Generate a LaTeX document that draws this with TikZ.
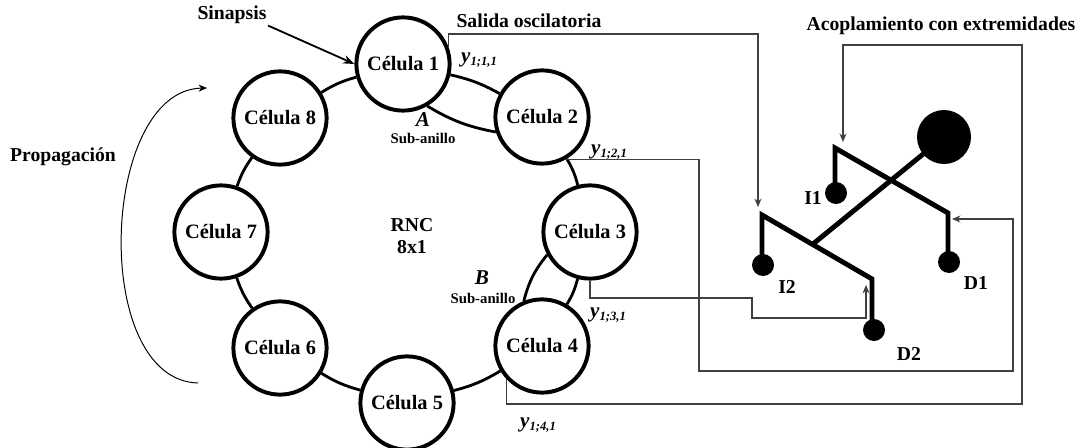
\documentclass[tikz,border=0pt]{standalone}
\usepackage{fontspec}
\setmainfont{Liberation Serif}
\usetikzlibrary{arrows.meta}

\newcommand{\ysal}[1]{{\fontsize{15}{16}\selectfont\bfseries\itshape y\raisebox{-0.35ex}{\fontsize{9}{10}\selectfont #1}}}

\begin{document}
\begin{tikzpicture}[x=0.025cm, y=-0.025cm,
celula/.style={circle, draw=black, line width=2.8pt, minimum size=2.33cm, inner sep=0pt, fill=white, font=\fontsize{14.5}{16}\selectfont\bfseries},
anillo/.style={line width=2pt},
senal/.style={draw=black!75, line width=0.8pt},
flecha/.style={-{Stealth[length=6pt,width=5pt]}},
etiqueta/.style={font=\fontsize{14}{16}\selectfont\bfseries, inner sep=1pt},
subanillo/.style={font=\fontsize{10.5}{12}\selectfont\bfseries, inner sep=1pt},
extremidad/.style={line width=3.5pt}
]
\useasboundingbox (0,0) rectangle (1083,447);
% Cells of the ring
\node[celula] (cel1) at (403,64) {Célula 1};
\node[celula] (cel2) at (542,117) {Célula 2};
\node[celula] (cel3) at (590,232) {Célula 3};
\node[celula] (cel4) at (542,346) {Célula 4};
\node[celula] (cel5) at (407,403) {Célula 5};
\node[celula] (cel6) at (280,348) {Célula 6};
\node[celula] (cel7) at (221,232) {Célula 7};
\node[celula] (cel8) at (280,118) {Célula 8};
% Ring links
\draw[anillo] (cel1) to[bend left=8] (cel2);
\draw[anillo] (cel2) to[bend left=8] (cel3);
\draw[anillo] (cel3) to[bend left=8] (cel4);
\draw[anillo] (cel4) to[bend left=8] (cel5);
\draw[anillo] (cel5) to[bend left=8] (cel6);
\draw[anillo] (cel6) to[bend left=8] (cel7);
\draw[anillo] (cel7) to[bend left=8] (cel8);
\draw[anillo] (cel8) to[bend left=8] (cel1);
% Sub-rings A and B
\draw[anillo] (cel1.-60) to[bend right=10] (cel2.-162);
\draw[anillo] (cel3.-152) to[bend right=12] (cel4.112);
\node[subanillo, font=\fontsize{15}{16}\selectfont\bfseries\itshape] (letA) at (423,120) {A};
\node[subanillo] (subA) at (423,138) {Sub-anillo};
\node[subanillo, font=\fontsize{15}{16}\selectfont\bfseries\itshape] (letB) at (482,278) {B};
\node[subanillo] (subB) at (483,298) {Sub-anillo};
\node[etiqueta, align=center] (rnc) at (412,236) {RNC\\8x1};
% Annotations
\node[etiqueta] (sinapsis) at (232,15) {Sinapsis};
\draw[line width=1.3pt, -{Stealth[length=8pt,width=6pt]}] (sinapsis.south east) -- (cel1.west);
\node[etiqueta] (salida) at (529,21) {Salida oscilatoria};
\node[etiqueta] (acopla) at (941,26) {Acoplamiento con extremidades};
\node[etiqueta] (propaga) at (63,157) {Propagación};
\coordinate (propIni) at (198,383);
\coordinate (propFin) at (207,88);
\draw[line width=0.7pt, flecha] (propIni) .. controls (90,380) and (100,90) .. (propFin);
% Output labels
\node (y11) at (479,60) {\ysal{1;1,1}};
\node (y21) at (609,152) {\ysal{1;2,1}};
\node (y31) at (608,315) {\ysal{1;3,1}};
\node (y41) at (538,425) {\ysal{1;4,1}};
% Limbs
\draw[extremidad] (835,193) -- (835,148) -- (948,213) -- (948,262);
\draw[extremidad] (762,265) -- (762,215) -- (872,279) -- (872,330);
\draw[extremidad] (944,137) -- (813,244);
\fill (944,137) circle[radius=27];
\fill (836,193) circle[radius=11];
\fill (949,262) circle[radius=11];
\fill (763,265) circle[radius=11];
\fill (874,330) circle[radius=11];
\node[etiqueta] (i1) at (813,198) {I1};
\node[etiqueta] (i2) at (787,287) {I2};
\node[etiqueta] (d1) at (976,283) {D1};
\node[etiqueta] (d2) at (909,354) {D2};
\coordinate (i1in) at (843,142);
\coordinate (i2in) at (758,207);
\coordinate (d1in) at (952,219);
\coordinate (d2in) at (866,285);
% Coupling signals
\draw[senal, flecha] (cel1.20) |- (758,34) -- (i2in);
\draw[senal, flecha] (cel2.-62) -| (699,371) -| (1013,219) -- (d1in);
\draw[senal, flecha] (cel3.south) |- (752,298) |- (866,318) -- (d2in);
\draw[senal, flecha] (cel4.-137) |- (1022,404) |- (843,45) -- (i1in);
\end{tikzpicture}
\end{document}
